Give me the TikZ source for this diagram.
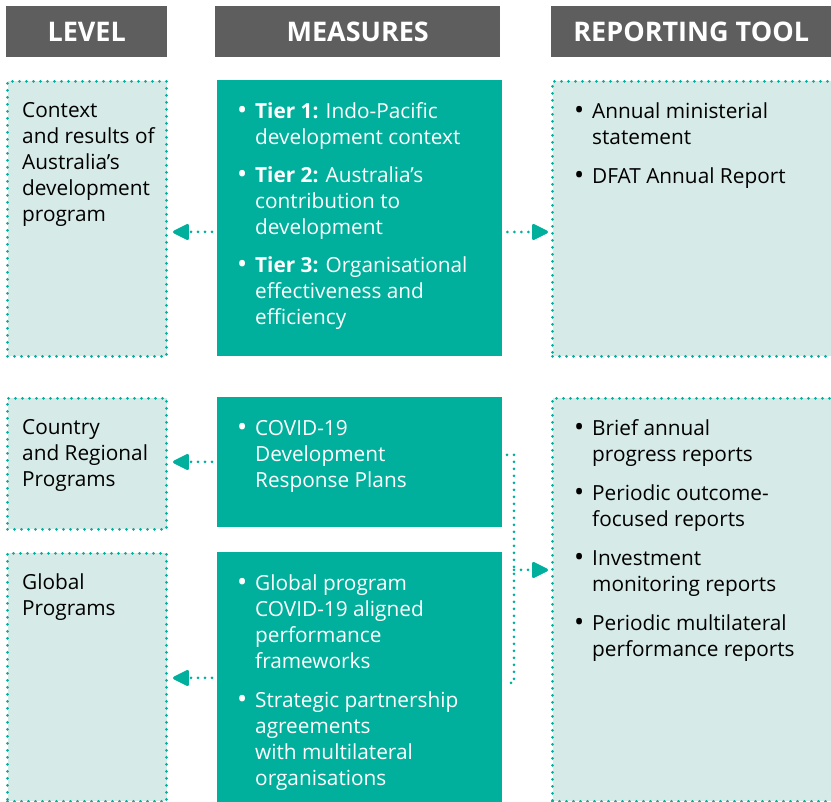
\documentclass[tikz,border=0pt]{standalone}
\usepackage{fontspec}
\setmainfont{Open Sans}
\usetikzlibrary{arrows.meta,positioning}
\definecolor{teal1}{RGB}{0,176,156}
\definecolor{pale}{RGB}{214,234,231}
\definecolor{hdrgray}{RGB}{94,94,94}
\newcommand{\itm}[1]{\makebox[18pt][l]{\raisebox{-1pt}{\scalebox{1.3}{\textbullet}}}\begin{tabular}[t]{@{}l@{}}#1\end{tabular}}

\begin{document}
\begin{tikzpicture}[x=1pt,y=1pt,
                    hdr/.style={fill=hdrgray,text=white,font=\fontsize{27}{30}\selectfont\bfseries,anchor=north west,inner sep=0},
                    lvl/.style={fill=pale,draw=teal1,line width=3pt,dash pattern=on 0pt off 7pt,line cap=round,anchor=north west,inner sep=0},
                    meas/.style={fill=teal1,anchor=north west,inner sep=0},
                    txt/.style={anchor=north west,inner sep=0,align=left,font=\fontsize{20.8}{26}\selectfont},
                    wtxt/.style={txt,text=white},
                    dots/.style={draw=teal1,line width=3pt,dash pattern=on 0pt off 7pt,line cap=round},
                    arr/.style={dots,-{Triangle[length=18pt,width=17pt,round=false]}}]
  \useasboundingbox (0,0) rectangle (831,802);
  % headers
  \node[hdr,minimum width=161,minimum height=51] (hlevel) at (6,796) {LEVEL};
  \node[hdr,minimum width=285,minimum height=51] (hmeas) at (215,796) {MEASURES};
  \node[hdr,minimum width=280,minimum height=51] (hrep) at (551,796) {REPORTING TOOL};
  % level column
  \node[lvl,minimum width=159,minimum height=275] (ctx) at (6,722) {};
  \node[lvl,minimum width=159,minimum height=131] (ctry) at (6,405) {};
  \node[lvl,minimum width=159,minimum height=248] (glob) at (6,250) {};
  \node[txt] (ctxtxt) at (22,700) {Context\\and results of\\Australia’s\\development\\program};
  \node[txt] (ctrytxt) at (22,383) {Country\\and Regional\\Programs};
  \node[txt] (globtxt) at (22,228) {Global\\Programs};
  % measures column
  \node[meas,minimum width=285,minimum height=276] (tiers) at (217,722) {};
  \node[meas,minimum width=285,minimum height=130] (covid) at (217,405) {};
  \node[meas,minimum width=285,minimum height=252] (gprog) at (217,250) {};
  \node[wtxt] (tierstxt) at (237,702) {%
    \itm{\textbf{Tier 1:} Indo-Pacific\\development context}\\[11pt]
    \itm{\textbf{Tier 2:} Australia’s\\contribution to\\development}\\[11pt]
    \itm{\textbf{Tier 3:} Organisational\\effectiveness and\\efficiency}};
  \node[wtxt] (covidtxt) at (237,385) {%
    \itm{COVID-19\\Development\\Response Plans}};
  \node[wtxt] (gprogtxt) at (237,230) {%
    \itm{Global program\\COVID-19 aligned\\performance\\frameworks}\\[12pt]
    \itm{Strategic partnership\\agreements\\with multilateral\\organisations}};
  % reporting column
  \node[lvl,minimum width=280,minimum height=275] (annual) at (551,722) {};
  \node[lvl,minimum width=280,minimum height=403] (progrep) at (551,405) {};
  \node[txt] (annualtxt) at (574,702) {%
    \itm{Annual ministerial\\statement}\\[12pt]
    \itm{DFAT Annual Report}};
  \node[txt] (progreptxt) at (574,385) {%
    \itm{Brief annual\\progress reports}\\[12pt]
    \itm{Periodic outcome-\\focused reports}\\[12pt]
    \itm{Investment\\monitoring reports}\\[12pt]
    \itm{Periodic multilateral\\performance reports}};
  % connectors
  \draw[arr,shorten <=5pt,shorten >=5pt] (tiers.west |- 0,570) -- (ctx.east |- 0,570);
  \draw[arr,shorten <=5pt,shorten >=3pt] (tiers.east |- 0,570) -- (annual.west |- 0,570);
  \draw[arr,shorten <=5pt,shorten >=5pt] (covid.west |- 0,340) -- (ctry.east |- 0,340);
  \draw[arr,shorten <=5pt,shorten >=5pt] (gprog.west |- 0,124) -- (glob.east |- 0,124);
  \coordinate (btop) at (507,347);
  \coordinate (bbot) at (507,119);
  \coordinate (bmid) at (514,232);
  \draw[dots] (btop) -- ++(7,0) |- (bbot);
  \draw[arr,shorten >=3pt] (bmid) -- (progrep.west |- bmid);
\end{tikzpicture}
\end{document}
